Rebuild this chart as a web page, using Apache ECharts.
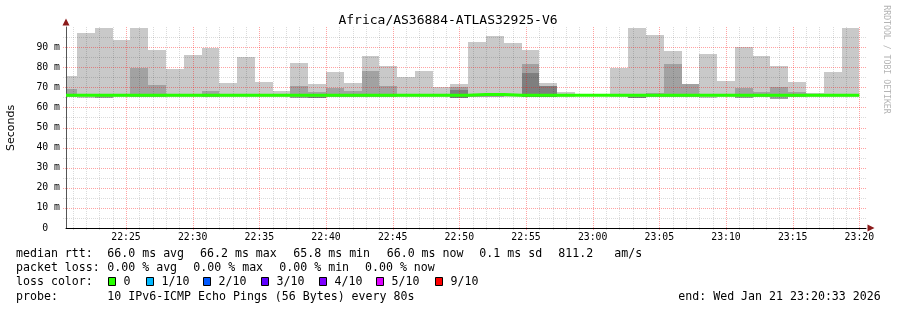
<!DOCTYPE html>
<html><head><meta charset="utf-8">
<script src="https://cdn.jsdelivr.net/npm/echarts@6/dist/echarts.min.js"></script>
<style>html,body{margin:0;padding:0;background:#fff}#c{width:897px;height:310px}</style>
</head><body><div id="c"></div>
<script>
const chartTitle = 'Africa/AS36884-ATLAS32925-V6';
const axisStart = '22:20:30';
const axisEnd = '23:20:30';
// start time of each 80 s step (first one is partial), and end of the last step
const stepStarts = ['22:20:30','22:21:20','22:22:40','22:24:00','22:25:20','22:26:40','22:28:00','22:29:20','22:30:40','22:32:00',
  '22:33:20','22:34:40','22:36:00','22:37:20','22:38:40','22:40:00','22:41:20','22:42:40','22:44:00','22:45:20',
  '22:46:40','22:48:00','22:49:20','22:50:40','22:52:00','22:53:20','22:54:40','22:56:00','22:57:20','22:58:40',
  '23:00:00','23:01:20','23:02:40','23:04:00','23:05:20','23:06:40','23:08:00','23:09:20','23:10:40','23:12:00',
  '23:13:20','23:14:40','23:16:00','23:17:20','23:18:40'];
const stepEnd = '23:20:00';
// smoke (ms)
const smokeHi = [75.6,97.1,99.5,93.5,99.5,88.5,79.2,86.0,89.7,72.1,85.0,72.6,68.1,82.0,71.6,77.6,72.1,85.5,80.6,75.1,
  78.2,70.0,71.6,92.5,95.5,92.0,88.5,71.9,67.6,66.2,66.2,79.7,99.5,96.0,88.0,71.6,86.5,73.1,90.0,85.5,80.6,72.6,67.1,77.6,99.5];
const smokeLo = [65.3,64.5,64.5,65.3,65.3,65.3,65.3,65.3,65.3,65.3,65.3,65.3,65.3,64.5,64.6,65.3,65.3,65.0,65.3,65.3,
  65.3,65.3,64.5,65.3,65.3,65.3,65.3,65.3,65.3,65.5,65.5,65.3,64.5,65.3,65.3,65.3,64.8,65.3,64.8,65.3,64.0,65.3,65.3,65.3,65.3];
const smokeMid = [69.1,null,65.6,null,79.7,71.1,null,null,68.0,null,null,null,null,70.6,67.6,69.7,68.1,78.1,70.6,null,
  null,null,70.1,66.8,67.0,null,81.5,null,null,null,null,null,65.6,67.1,81.5,71.6,null,null,69.6,67.6,70.1,67.6,null,null,null];
const smokeDeep = [null,null,null,null,null,null,null,null,null,null,null,null,null,null,65.1,null,null,null,null,null,
  null,null,68.6,null,null,null,77.2,70.6,null,null,null,null,65.1,null,null,null,null,null,null,null,null,null,null,null,null];
const medianRtt = [66.0,66.0,66.0,66.0,66.0,66.0,66.0,66.0,66.0,66.0,66.0,66.0,66.0,66.0,66.0,66.0,66.0,66.0,66.0,66.0,
  66.0,66.0,66.0,66.4,66.4,66.0,66.0,66.0,66.0,66.0,66.0,66.0,66.0,66.0,66.0,66.0,66.0,66.0,66.0,66.0,66.0,66.0,66.0,66.0,66.0];
const xTickLabels = ['22:25','22:30','22:35','22:40','22:45','22:50','22:55','23:00','23:05','23:10','23:15','23:20'];
const yTickValues = [0,10,20,30,40,50,60,70,80,90];
// legend text
const rttStats = ['median rtt:','66.0 ms avg','66.2 ms max','65.8 ms min','66.0 ms now','0.1 ms sd','811.2','am/s'];
const lossStats = ['packet loss:','0.00 % avg','0.00 % max','0.00 % min','0.00 % now'];
const lossLabels = ['0','1/10','2/10','3/10','4/10','5/10','9/10'];
const lossColors = ['#26ff00','#00b8ff','#0059ff','#5e00ff','#7e00ff','#dd00ff','#ff0000'];
const probeText = ['probe:','10 IPv6-ICMP Echo Pings (56 Bytes) every 80s','end: Wed Jan 21 23:20:33 2026'];

const toSec = s => { const p = s.split(':').map(Number); return (p[0]-22)*3600 + p[1]*60 + (p[2]||0); };
const fmtT = v => { const h = 22 + Math.floor(v/3600); const m = Math.round((v%3600)/60); return h + ':' + String(m).padStart(2,'0'); };
const xMin = toSec(axisStart), xMax = toSec(axisEnd);
const yMin = 0, yMax = 100;
const tickSecs = xTickLabels.map(toSec);

const smokeData = stepStarts.map((s,i) => {
  const t0 = toSec(s), t1 = i+1 < stepStarts.length ? toSec(stepStarts[i+1]) : toSec(stepEnd);
  const lo = smokeLo[i];
  return [t0, t1, lo, smokeHi[i], smokeMid[i]==null?lo:smokeMid[i], smokeDeep[i]==null?lo:smokeDeep[i]];
});
const medData = stepStarts.map((s,i)=>[toSec(s), medianRtt[i]]);
medData.push([toSec(stepEnd), medianRtt[medianRtt.length-1]]);

// grid line positions (minor every minute / 5 ms, major at labelled ticks)
const RED = 'rgba(255,0,0,0.36)', GREY = 'rgba(0,0,0,0.14)';
const vMinor = [], vMajor = [];
for (let t = toSec('22:21'); t <= xMax; t += 60) (tickSecs.indexOf(t) >= 0 ? vMajor : vMinor).push(t);
const hMinor = [], hMajor = [];
for (let v = 5; v < yMax; v += 5) (v % 10 === 0 ? hMajor : hMinor).push(v);

function vGridRenderer(color) {
  return function (params, api) {
    const t = api.value(0);
    const pb = api.coord([t, yMin]), pt = api.coord([t, yMax]);
    const x = Math.round(pb[0]) + 0.5;
    return {type:'line', shape:{x1:x, y1:Math.round(pt[1]), x2:x, y2:Math.round(pb[1]) + 3},
      style:{stroke: color, lineWidth:1, lineDash:[1,1]}};
  };
}
function hGridRenderer(color) {
  return function (params, api) {
    const v = api.value(0);
    const pl = api.coord([xMin, v]), pr = api.coord([xMax, v]);
    const y = Math.round(pl[1]) + 0.5;
    return {type:'line', shape:{x1:Math.round(pl[0]) - 3, y1:y, x2:Math.round(pr[0]), y2:y},
      style:{stroke: color, lineWidth:1, lineDash:[1,1]}};
  };
}

function renderSmoke(params, api) {
  const t0 = api.value(0), t1 = api.value(1), lo = api.value(2);
  const bands = [[api.value(3), '#c9c9c9'], [api.value(4), '#a2a2a2'], [api.value(5), '#7f7f7f']];
  const children = [];
  bands.forEach(b => {
    if (!(b[0] > lo)) return;
    const p0 = api.coord([t0, b[0]]), p1 = api.coord([t1, lo]);
    const x0 = Math.round(p0[0]), x1 = Math.round(p1[0]);
    const y0 = Math.round(p0[1]), y1 = Math.round(p1[1]);
    children.push({type:'rect', shape:{x:x0, y:y0, width:x1-x0, height:y1-y0}, style:{fill:b[1]}});
  });
  return {type:'group', children};
}

const mono = 'DejaVu Sans Mono';
const graphics = [];
const txt = (x, y, t) => graphics.push({type:'text', x, y, style:{text:t, fill:'#000', font:'11.6px "'+mono+'"', textVerticalAlign:'middle'}});
graphics.push({type:'text', x:448, y:20.5, style:{text:chartTitle, fill:'#000', font:'13px "'+mono+'"', textAlign:'center', textVerticalAlign:'middle'}});
graphics.push({type:'text', x:11, y:128, rotation:Math.PI/2, style:{text:'Seconds', fill:'#000', font:'11px "DejaVu Sans"', textAlign:'center', textVerticalAlign:'middle'}});
graphics.push({type:'text', x:886, y:59.5, rotation:-Math.PI/2, style:{text:'RRDTOOL / TOBI OETIKER', fill:'#b4b4b4', font:'8.2px "'+mono+'"', textAlign:'center', textVerticalAlign:'middle'}});
const rttX = [16,107.3,200,293.3,386.7,479.3,558.3,614.3];
rttStats.forEach((t,i)=>txt(rttX[i], 254, t));
const lossX = [16,107.3,193.3,279.3,365];
lossStats.forEach((t,i)=>txt(lossX[i], 268.3, t));
txt(16, 282, 'loss color:');
const sqX = [108.5,146.5,203.5,261.5,319.5,376.5,435.5];
lossLabels.forEach((t,i)=>{
  graphics.push({type:'rect', shape:{x:sqX[i], y:277.5, width:7, height:8}, style:{fill:lossColors[i], stroke:'#000', lineWidth:1}});
  txt(sqX[i]+15, 282, t);
});
txt(16, 296.7, probeText[0]);
txt(107.3, 296.7, probeText[1]);
txt(678.3, 296.7, probeText[2]);

const gridSeries = (data, renderer, z) => ({type:'custom', xAxisIndex:0, yAxisIndex:0, z:z, silent:true, clip:false,
  renderItem: renderer, data: data.map(v => [v])});

const chart = echarts.init(document.getElementById('c'), null, {renderer:'canvas'});
chart.setOption({
  animation:false,
  backgroundColor:'#fff',
  grid:{left:66, top:27, width:800, height:201, containLabel:false},
  xAxis:[{
    type:'value', min:xMin, max:xMax, z:6,
    axisLine:{show:true, onZero:false, lineStyle:{color:'#000', width:1}},
    axisTick:{show:false, customValues:tickSecs},
    axisLabel:{customValues:tickSecs, formatter:fmtT, margin:4, color:'#000', fontFamily:mono, fontSize:9.8},
    splitLine:{show:false}
  },{
    type:'value', min:xMin, max:xMax, position:'bottom', z:7,
    axisLine:{show:true, onZero:false, symbol:['none','triangle'], symbolSize:[7,7], symbolOffset:[0,5], lineStyle:{color:'#8b1a1a', width:0}},
    axisTick:{show:false}, axisLabel:{show:false}, splitLine:{show:false}
  }],
  yAxis:[{
    type:'value', min:yMin, max:yMax, interval:10, z:6,
    axisLine:{show:true, lineStyle:{color:'#555', width:1}},
    axisTick:{show:false},
    axisLabel:{margin:6, color:'#000', fontFamily:mono, fontSize:9.8,
      formatter: v => v===100 ? '' : (v===0 ? '0  ' : v+' m')},
    splitLine:{show:false}
  },{
    type:'value', min:yMin, max:yMax, position:'left', z:7,
    axisLine:{show:true, onZero:false, symbol:['none','triangle'], symbolSize:[7,7], symbolOffset:[0,5], lineStyle:{color:'#8b1a1a', width:0}},
    axisTick:{show:false}, axisLabel:{show:false}, splitLine:{show:false}
  }],
  series:[{
    type:'custom', xAxisIndex:0, yAxisIndex:0, z:1, silent:true,
    renderItem: renderSmoke, data: smokeData
  },
  gridSeries(vMinor, vGridRenderer(GREY), 4),
  gridSeries(hMinor, hGridRenderer(GREY), 4),
  gridSeries(vMajor, vGridRenderer(RED), 5),
  gridSeries(hMajor, hGridRenderer(RED), 5),
  {
    type:'line', xAxisIndex:0, yAxisIndex:0, z:10, silent:true, step:'end', showSymbol:false, symbol:'none',
    lineStyle:{color:'#26ff00', width:3}, data: medData
  }],
  graphic: graphics
});
</script></body></html>
